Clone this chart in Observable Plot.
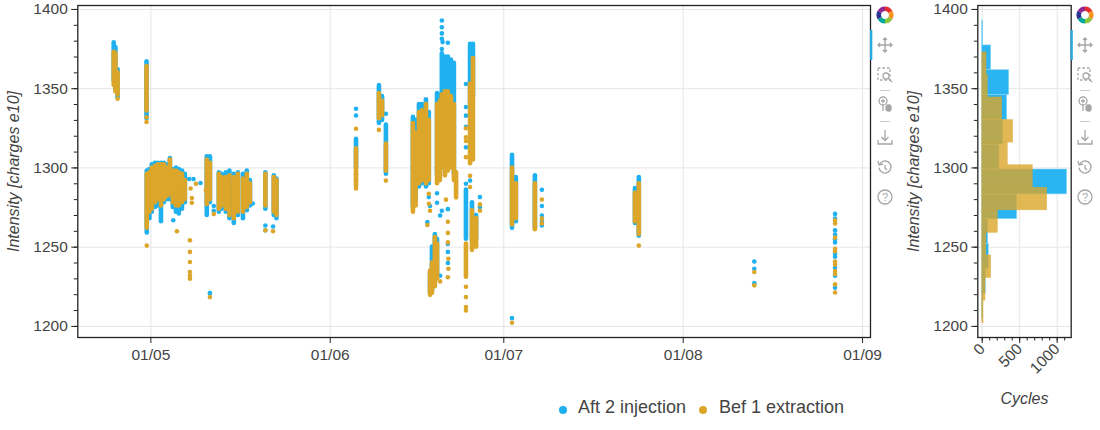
<!DOCTYPE html>
<html><head><meta charset="utf-8">
<script src="https://cdn.jsdelivr.net/npm/d3@7"></script>
<script src="https://cdn.jsdelivr.net/npm/@observablehq/plot@0.6"></script>
<style>
body{margin:0;background:#fff;font-family:"Liberation Sans",Arial,sans-serif;}
#wrap{position:relative;width:1100px;height:430px;overflow:hidden;background:#fff}
#scatter{position:absolute;left:0;top:0}
#hist{position:absolute;left:900px;top:0}
#tools{position:absolute;left:0;top:0}
.leg{position:absolute;font-size:18px;color:#444;white-space:nowrap;line-height:18px}
.sw{position:absolute;width:8px;height:8px;border-radius:50%}
</style></head>
<body><div id="wrap">
<div id="scatter"></div><div id="hist"></div>
<div class="sw" style="left:559px;top:406px;background:#1fb0f0"></div>
<div class="leg" style="left:578px;top:398px">Aft 2 injection</div>
<div class="sw" style="left:699px;top:406px;background:#dba62a"></div>
<div class="leg" style="left:719px;top:398px">Bef 1 extraction</div>
<svg id="tools" width="1100" height="430"></svg>
</div>
<script>
// ---------- data ----------
const series = ["Aft 2 injection", "Bef 1 extraction"];
const yTicks = [1200, 1250, 1300, 1350, 1400];
const monthTickLabels = ["05-01 00", "06-01 00", "07-01 00", "08-01 00", "09-01 00"];
const histTicks = [0, 500, 1000];

// dense runs of points: [date, low, high]
const blueStripes = [
["04-24 14",1355,1379],["04-24 21",1350,1376],["04-25 06",1345,1362],
["04-30 06",1331,1367],
["04-30 07",1259,1298],["04-30 18",1268,1299],["05-01 04",1272,1302],["05-01 17",1275,1303],
["05-02 05",1276,1303],["05-02 18",1266,1303],["05-03 06",1278,1303],["05-03 18",1280,1302],
["05-04 07",1280,1306],["05-04 19",1275,1299],["05-05 08",1272,1300],["05-05 20",1271,1299],
["05-06 09",1274,1298],["05-06 21",1278,1296],
["05-10 16",1270,1307],["05-11 05",1278,1307],["05-12 18",1272,1297],["05-13 06",1274,1296],
["05-13 23",1272,1297],["05-14 14",1268,1298],["05-15 08",1265,1296],["05-16 01",1270,1297],
["05-16 22",1268,1296],["05-17 14",1273,1298],["05-18 03",1276,1292],
["05-20 19",1274,1297],["05-22 06",1270,1295],["05-22 17",1268,1293],
["06-05 11",1300,1318],["06-09 10",1328,1352],["06-09 23",1330,1345],["06-10 15",1296,1327],
["06-15 07",1275,1332],["06-15 18",1280,1330],["06-16 08",1288,1340],["06-16 20",1290,1340],
["06-17 13",1288,1343],["06-18 01",1290,1335],
["06-18 06",1221,1233],["06-18 14",1222,1250],["06-19 02",1228,1258],["06-19 11",1232,1255],
["06-19 11",1295,1347],["06-19 23",1295,1346],["06-20 07",1340,1372],["06-20 20",1342,1370],
["06-21 08",1344,1370],["06-21 21",1340,1368],["06-22 09",1296,1366],
["06-24 11",1255,1286],["06-25 04",1340,1378],["06-25 16",1345,1378],
["06-25 12",1254,1278],["06-26 05",1255,1270],
["07-02 10",1262,1308],["07-03 02",1266,1294],["07-06 09",1262,1295],
["07-23 16",1265,1287],["07-24 08",1257,1294]
];
const orangeStripes = [
["04-24 14",1352,1373],["04-24 21",1348,1372],["04-25 06",1346,1360],
["04-30 06",1336,1364],
["04-30 07",1262,1296],["04-30 18",1272,1297],["05-01 04",1274,1300],["05-01 17",1278,1301],
["05-02 05",1280,1302],["05-02 18",1276,1302],["05-03 06",1280,1302],["05-03 18",1282,1300],
["05-04 07",1283,1305],["05-04 19",1278,1298],["05-05 08",1276,1298],["05-05 20",1276,1297],
["05-06 09",1278,1296],["05-06 21",1280,1292],
["05-10 16",1277,1305],["05-11 05",1280,1303],["05-12 18",1274,1296],["05-13 06",1276,1294],
["05-13 23",1274,1294],["05-14 14",1270,1295],["05-15 08",1268,1294],["05-16 01",1272,1296],
["05-16 22",1272,1293],["05-17 14",1275,1296],["05-18 03",1278,1290],
["05-20 19",1276,1296],["05-22 06",1272,1294],["05-22 17",1270,1292],
["06-05 11",1288,1312],["06-09 10",1331,1347],["06-09 23",1333,1342],["06-10 15",1298,1315],
["06-15 07",1272,1328],["06-15 18",1276,1322],["06-16 08",1290,1335],["06-16 20",1292,1336],
["06-17 13",1290,1340],["06-18 01",1292,1330],
["06-18 06",1219.6,1235],["06-18 14",1221,1240],["06-19 02",1225,1256],["06-19 11",1230,1252],
["06-19 11",1290,1340],["06-19 23",1292,1342],["06-20 07",1300,1346],["06-20 20",1295,1348],
["06-21 08",1298,1348],["06-21 21",1300,1345],["06-22 09",1292,1340],["06-22 18",1281,1297],
["06-24 11",1231,1252],["06-25 04",1302.6,1353],["06-25 16",1305,1369],
["06-25 12",1248,1273],["06-26 05",1250,1268],
["07-02 10",1264,1300],["07-03 02",1268,1290],["07-06 09",1261,1290],
["07-23 16",1266,1284],["07-24 08",1258,1290]
];
// isolated points: [date, [values]]
const blueDots = [
["04-25 06",[1344.7]],["05-04 21",[1267]],["05-07 15",[1293]],["05-08 09",[1293]],["05-09 14",[1290.5]],
["05-11 05",[1221]],["05-11 21",[1276,1273]],["05-18 15",[1277.6]],["05-22 03",[1263]],["05-20 19",[1263.7,1260.6]],
["06-05 11",[1337.3,1333.1,1296,1292]],["06-10 15",[1334.2]],
["06-18 01",[1281.6]],["06-17 19",[1265.8]],["06-18 06",[1276]],
["06-20 07",[1393,1388.8,1384.9,1381.5,1375,1273]],["06-20 10",[1379.4]],["06-21 08",[1379,1274,1252,1247,1240]],
["06-22 09",[1325.7]],["06-20 00",[1270,1232]],["06-19 11",[1284,1278]],
["06-24 11",[1353,1338.4,1333,1326,1313,1290]],["06-25 04",[1292]],["06-26 21",[1281.6,1275.3]],
["07-02 10",[1205.2]],["07-07 14",[1286.2,1276,1270,1266,1263.7]],
["08-13 07",[1241,1236.4,1227.3]],
["08-27 06",[1271,1268,1260.6,1258,1255,1253,1246,1244,1237,1232,1224.4]]
];
const orangeDots = [
["04-25 06",[1343.7]],["04-30 06",[1332,1329]],["04-30 07",[1251]],["05-05 12",[1260]],
["05-07 18",[1254.3,1247,1240.6,1234.3,1232,1230.1]],["05-07 21",[1287]],["05-08 19",[1290]],
["05-10 12",[1286]],["05-08 02",[1281,1278]],["05-11 05",[1218.5]],["05-11 21",[1271]],
["05-22 03",[1260]],["05-20 19",[1260.6]],
["06-05 11",[1324.7,1287]],["06-09 10",[1324]],["06-10 15",[1292]],
["06-18 01",[1283.7,1277.4]],["06-17 19",[1264]],["06-18 06",[1273]],["06-21 00",[1280]],
["06-21 08",[1266,1259,1253,1231]],["06-21 10",[1242.7,1236.4]],["06-20 00",[1228.4]],
["06-24 11",[1325,1319.3,1317,1306.8,1225,1218.5,1212.2,1210]],["06-25 04",[1295,1288]],
["06-26 21",[1277,1273]],["07-02 10",[1202.3]],["07-07 14",[1280.1,1268,1265]],["07-24 08",[1251]],
["08-13 07",[1234.3,1225.9]],
["08-27 06",[1266.9,1265,1256,1249,1247.5,1241,1239,1235,1233,1226.5,1221.4]]
];

// histogram bins (edges low→high) and counts
const blueEdges = [1205,1220.7,1236.3,1252,1267.7,1283.3,1299,1314.7,1330.3,1346,1361.7,1377.3,1393];
const blueCounts = [13,48,88,80,467,1133,230,280,333,360,120,13];
const orangeEdges = [1202,1216.25,1230.5,1244.75,1259,1273.25,1287.5,1301.75,1316,1330.25,1344.5,1358.75,1373];
const orangeCounts = [18,44,120,55,209,867,675,342,413,267,75,58];

// ---------- build ----------
const BLUE = "#1fb0f0", ORANGE = "#dba62a";
const parse = d3.utcParse("%Y-%m-%d %H");
const T = s => parse("2018-" + s);
const stripes = (arr) => arr.map(([d, lo, hi]) => ({date: T(d), lo, hi}));
const dots = (arr) => arr.flatMap(([d, vs]) => vs.map(v => ({date: T(d), v})));
const bins = (edges, counts) => counts.map((c, i) => ({lo: edges[i], hi: edges[i + 1], count: c}));
const monthTicks = monthTickLabels.map(T);
const yMinor = d3.range(1200, 1401, 10);
const yDomain = [1193, 1402.5];
const fmt = d3.format("d");
const FONT = "'Liberation Sans', Arial, Helvetica, sans-serif";
const style = {fontFamily: FONT, fontSize: "15.5px", color: "#444", background: "white", overflow: "visible"};

const scatter = Plot.plot({
  width: 880, height: 370,
  marginLeft: 77.3, marginRight: 10, marginTop: 5, marginBottom: 33,
  x: {type: "utc", domain: [T("04-18 09"), T("09-02 09")]},
  y: {domain: yDomain},
  style,
  marks: [
    Plot.gridX(monthTicks, {stroke: "#e5e5e5", strokeOpacity: 1}),
    Plot.gridY(yTicks, {stroke: "#e5e5e5", strokeOpacity: 1}),
    Plot.ruleX(stripes(blueStripes), {x: "date", y1: "lo", y2: "hi", stroke: BLUE, strokeWidth: 4.6, strokeLinecap: "round"}),
    Plot.dot(dots(blueDots), {x: "date", y: "v", r: 2.3, fill: BLUE, stroke: null}),
    Plot.ruleX(stripes(orangeStripes), {x: "date", y1: "lo", y2: "hi", stroke: ORANGE, strokeWidth: 4.6, strokeLinecap: "round"}),
    Plot.dot(dots(orangeDots), {x: "date", y: "v", r: 2.3, fill: ORANGE, stroke: null}),
    Plot.frame({stroke: "#222", strokeWidth: 1.3}),
    Plot.axisY({ticks: yTicks, tickFormat: fmt, tickSize: 6, tickPadding: 4, label: null, stroke: "#222", fill: "#444"}),
    Plot.axisY({ticks: yMinor, tickSize: 3.5, tickFormat: () => "", label: null, stroke: "#222"}),
    Plot.axisX({ticks: monthTicks, tickFormat: d3.utcFormat("%d/%m"), tickSize: 6, tickPadding: 5, label: null, stroke: "#222", fill: "#444"}),
    Plot.text(["Intensity [charges e10]"], {frameAnchor: "left", dx: -63.5, rotate: -90, textAnchor: "middle", lineAnchor: "middle", fontStyle: "italic", fontSize: 16, fill: "#444"})
  ]
});
document.getElementById("scatter").append(scatter);

const hist = Plot.plot({
  width: 175, height: 430,
  marginLeft: 77.3, marginRight: 4.3, marginTop: 5, marginBottom: 93,
  x: {domain: [-59, 1187]},
  y: {domain: yDomain},
  style,
  marks: [
    Plot.gridX(histTicks, {stroke: "#e5e5e5", strokeOpacity: 1}),
    Plot.gridY(yTicks, {stroke: "#e5e5e5", strokeOpacity: 1}),
    Plot.rectX(bins(blueEdges, blueCounts), {x1: 0, x2: "count", y1: "lo", y2: "hi", fill: BLUE, fillOpacity: 0.95, stroke: "#8fd6f7", strokeWidth: 0.6}),
    Plot.rectX(bins(orangeEdges, orangeCounts), {x1: 0, x2: "count", y1: "lo", y2: "hi", fill: ORANGE, fillOpacity: 0.8, stroke: ORANGE, strokeOpacity: 0.5, strokeWidth: 0.6}),
    Plot.frame({stroke: "#222", strokeWidth: 1.3}),
    Plot.axisY({ticks: yTicks, tickFormat: fmt, tickSize: 6, tickPadding: 4, label: null, stroke: "#222", fill: "#444"}),
    Plot.axisY({ticks: yMinor, tickSize: 3.5, tickFormat: () => "", label: null, stroke: "#222"}),
    Plot.axisX({ticks: histTicks, tickFormat: fmt, tickSize: 6, tickPadding: 3, tickRotate: -45, label: null, stroke: "#222", fill: "#444"}),
    Plot.axisX({ticks: d3.range(0, 1101, 100), tickSize: 3.5, tickFormat: () => "", label: null, stroke: "#222"}),
    Plot.text(["Intensity [charges e10]"], {frameAnchor: "left", dx: -64, rotate: -90, textAnchor: "middle", lineAnchor: "middle", fontStyle: "italic", fontSize: 16, fill: "#444"}),
    Plot.text(["Cycles"], {frameAnchor: "bottom", dy: 61, textAnchor: "middle", lineAnchor: "middle", fontStyle: "italic", fontSize: 16, fill: "#444"})
  ]
});
document.getElementById("hist").append(hist);

// ---------- toolbar decoration ----------
const tools = d3.select("#tools");
function toolbar(cx, barX) {
  tools.append("rect").attr("x", barX).attr("y", 30).attr("width", 2.3).attr("height", 30).attr("fill", "#26aae1");
  const logoCols = ["#e4312b", "#f7931e", "#8cc63f", "#00a99d", "#2e3192", "#93278f"];
  const g = tools.append("g").attr("transform", `translate(${cx},15)`);
  const arc = d3.arc().innerRadius(4).outerRadius(8.5);
  logoCols.forEach((c, i) => g.append("path").attr("d", arc({startAngle: i * Math.PI / 3, endAngle: (i + 1) * Math.PI / 3})).attr("fill", c));
  const gr = "#a6a6a6";
  const m = tools.append("g").attr("transform", `translate(${cx},45)`).attr("stroke", gr).attr("fill", "none").attr("stroke-width", 1.4);
  m.append("path").attr("d", "M-7,0H7M0,-7V7M-5,-2L-7,0L-5,2M5,-2L7,0L5,2M-2,-5L0,-7L2,-5M-2,5L0,7L2,5");
  const b = tools.append("g").attr("transform", `translate(${cx},75)`).attr("stroke", gr).attr("fill", "none").attr("stroke-width", 1.3);
  b.append("rect").attr("x", -7).attr("y", -7).attr("width", 12).attr("height", 12).attr("stroke-dasharray", "2.5,2");
  b.append("circle").attr("cx", 1).attr("cy", 1).attr("r", 3);
  b.append("path").attr("d", "M3,3L7,7");
  tools.append("path").attr("d", `M${cx - 5},90.5H${cx + 5}`).attr("stroke", "#ccc");
  const w = tools.append("g").attr("transform", `translate(${cx},104)`).attr("stroke", gr).attr("fill", "none").attr("stroke-width", 1.3);
  w.append("circle").attr("cx", -2).attr("cy", -3).attr("r", 4);
  w.append("path").attr("d", "M-2,1V7M-4,-3H0M-2,-5V-1");
  w.append("rect").attr("x", 1).attr("y", 1).attr("width", 5).attr("height", 6).attr("rx", 2).attr("fill", gr);
  tools.append("path").attr("d", `M${cx - 5},121.5H${cx + 5}`).attr("stroke", "#ccc");
  const s = tools.append("g").attr("transform", `translate(${cx},137)`).attr("stroke", gr).attr("fill", "none").attr("stroke-width", 1.3);
  s.append("path").attr("d", "M0,-7V3M-3.5,0L0,3.5L3.5,0M-7,3V7H7V3");
  const r = tools.append("g").attr("transform", `translate(${cx},167)`).attr("stroke", gr).attr("fill", "none").attr("stroke-width", 1.3);
  r.append("path").attr("d", d3.arc().innerRadius(6).outerRadius(6)({startAngle: -1.2, endAngle: 4.6}));
  r.append("path").attr("d", "M-7,-6L-6,-2L-2,-3");
  r.append("path").attr("d", "M0,-2V1L2,3");
  const h = tools.append("g").attr("transform", `translate(${cx},197)`);
  h.append("circle").attr("r", 7).attr("stroke", gr).attr("fill", "none").attr("stroke-width", 1.3);
  h.append("text").text("?").attr("text-anchor", "middle").attr("y", 4).attr("font-size", 11).attr("fill", gr).attr("font-family", FONT);
}
toolbar(885, 870);
toolbar(1085, 1070.5);
</script>
</body></html>
